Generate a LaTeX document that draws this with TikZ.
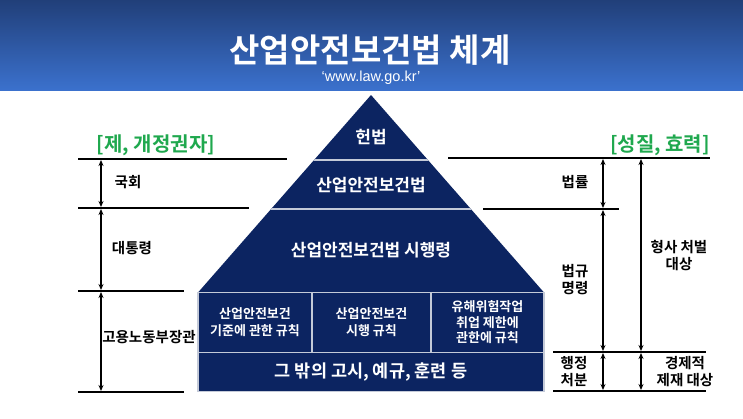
\documentclass[tikz,border=0pt]{standalone}
\usepackage{fontspec}
\setmainfont{Noto Sans CJK KR}[BoldFont={Noto Sans CJK KR Bold}]
\newfontfamily\latinfont{Liberation Sans}
\usetikzlibrary{arrows.meta}
\definecolor{navy}{HTML}{0C2461}
\definecolor{hdrtop}{HTML}{213F79}
\definecolor{hdrbot}{HTML}{3B71CD}
\definecolor{sepgray}{HTML}{C4CAD8}
\definecolor{hdgreen}{HTML}{1FA84E}
\begin{document}
\begin{tikzpicture}[x=1pt,y=-1pt,
  hline/.style={line width=1.3pt,black},
  dimarrow/.style={line width=1.5pt,black,{Stealth[length=6pt,width=5pt]}-{Stealth[length=6pt,width=5pt]}},
  lbl/.style={font=\bfseries\fontsize{14.5}{17}\selectfont,align=center,text=black,inner sep=0pt},
  grn/.style={font=\bfseries\fontsize{20}{23}\selectfont,text=hdgreen,inner sep=0pt},
  ptext/.style={font=\bfseries\fontsize{17}{20}\selectfont,text=white,align=center,inner sep=0pt},
  boxtext/.style={font=\bfseries\fontsize{13}{17}\selectfont,text=white,align=center},
  cell/.style={draw=sepgray,line width=1.2pt,fill=navy,inner sep=0pt,outer sep=0pt}]
\useasboundingbox (0,0) rectangle (743,418);
\fill[white] (0,0) rectangle (743,418);
% header
\shade[top color=hdrtop,bottom color=hdrbot] (0,0) rectangle (743,90);
\node[font=\bfseries\fontsize{33}{38}\selectfont,text=white,inner sep=0pt] (title) at (370,50) {산업안전보건법 체계};
\node[font=\latinfont\fontsize{14.5}{17}\selectfont,text=white,inner sep=0pt] (sub) at (371,78) {‘www.law.go.kr’};
% pyramid
\fill[navy] (371,95) -- (198,292.5) -- (544,292.5) -- cycle;
\begin{scope}
  \clip (371,95) -- (198,292.5) -- (544,292.5) -- cycle;
  \draw[sepgray,line width=1.2pt] (180,160) -- (560,160);
  \draw[sepgray,line width=1.2pt] (180,209) -- (560,209);
\end{scope}
\node[ptext] (p1) at (371,137) {헌법};
\node[ptext] (p2) at (371,185) {산업안전보건법};
\node[ptext] (p3) at (371,250) {산업안전보건법 시행령};
\node[cell,minimum width=114pt,minimum height=60pt] (b1) at (255,322.5) {};
\node[cell,minimum width=119pt,minimum height=60pt] (b2) at (371.5,322.5) {};
\node[cell,minimum width=113pt,minimum height=60pt] (b3) at (487.5,322.5) {};
\node[cell,minimum width=346pt,minimum height=39pt] (b4) at (371,372) {};
\node[boxtext] at (b1) {산업안전보건\\기준에 관한 규칙};
\node[boxtext] at (b2) {산업안전보건\\시행 규칙};
\node[boxtext,font=\bfseries\fontsize{13}{15.5}\selectfont] at (b3) {유해위험작업\\취업 제한에\\관한에 규칙};
\node[ptext,font=\bfseries\fontsize{17.5}{20}\selectfont] at (b4) {그 밖의 고시, 예규, 훈련 등};
% left side
\node[grn] (lt) at (156,145) {[제, 개정권자]};
\coordinate (L1a) at (78,159);  \coordinate (L1b) at (287,159);
\coordinate (L2a) at (78,208);  \coordinate (L2b) at (249,208);
\coordinate (L3a) at (78,291);  \coordinate (L3b) at (184,291);
\coordinate (L4a) at (78,392);  \coordinate (L4b) at (184,392);
\draw[hline] (L1a) -- (L1b);
\draw[hline] (L2a) -- (L2b);
\draw[hline] (L3a) -- (L3b);
\draw[hline] (L4a) -- (L4b);
\coordinate (la1) at (101,160); \coordinate (la2) at (101,207);
\coordinate (la3) at (101,209); \coordinate (la4) at (101,290);
\coordinate (la5) at (101,292); \coordinate (la6) at (101,391);
\draw[dimarrow] (la1) -- (la2);
\draw[dimarrow] (la3) -- (la4);
\draw[dimarrow] (la5) -- (la6);
\node[lbl] (k1) at (128,182) {국회};
\node[lbl] (k2) at (132,248) {대통령};
\node[lbl] (k3) at (149,337) {고용노동부장관};
% right side
\node[grn] (rt) at (660,145) {[성질, 효력]};
\coordinate (R1a) at (448,158);  \coordinate (R1b) at (710,158);
\coordinate (R2a) at (483,209);  \coordinate (R2b) at (619,209);
\coordinate (R3a) at (553,352);  \coordinate (R3b) at (706,352);
\coordinate (R4a) at (553,391);  \coordinate (R4b) at (706,391);
\draw[hline] (R1a) -- (R1b);
\draw[hline] (R2a) -- (R2b);
\draw[hline] (R3a) -- (R3b);
\draw[hline] (R4a) -- (R4b);
\coordinate (ra1) at (603,159); \coordinate (ra2) at (603,208);
\coordinate (ra3) at (603,210); \coordinate (ra4) at (603,351);
\coordinate (ra5) at (603,353); \coordinate (ra6) at (603,390);
\coordinate (rb1) at (641,159); \coordinate (rb2) at (641,351);
\coordinate (rb3) at (641,353); \coordinate (rb4) at (641,390);
\draw[dimarrow] (ra1) -- (ra2);
\draw[dimarrow] (ra3) -- (ra4);
\draw[dimarrow] (ra5) -- (ra6);
\draw[dimarrow] (rb1) -- (rb2);
\draw[dimarrow] (rb3) -- (rb4);
\node[lbl] (m1) at (575,182) {법률};
\node[lbl] (m2) at (575,280) {법규\\명령};
\node[lbl] (m3) at (574,372) {행정\\처분};
\node[lbl] (m4) at (679,256) {형사 처벌\\대상};
\node[lbl] (m5) at (685,372) {경제적\\제재 대상};
\end{tikzpicture}
\end{document}
